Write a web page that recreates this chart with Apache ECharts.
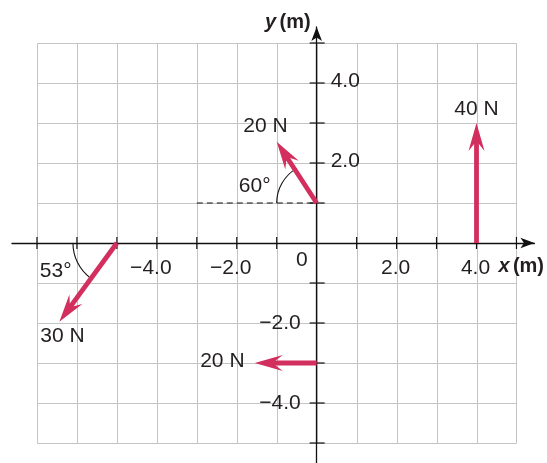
<!DOCTYPE html>
<html><head><meta charset="utf-8">
<script src="https://cdn.jsdelivr.net/npm/echarts@6/dist/echarts.min.js"></script>
<style>html,body{margin:0;padding:0;background:#fff}#c{width:547px;height:463px}</style>
</head><body><div id="c"></div>
<script>
// ---- grid / axis data ----
const gridXValues = [-7,-6,-5,-4,-3,-2,-1,0,1,2,3,4,5];
const gridYValues = [-5,-4,-3,-2,-1,0,1,2,3,4,5];
const gridXMin = -7, gridXMax = 5, gridYMin = -5, gridYMax = 5;
const xTickValues = [-7,-6,-5,-4,-3,-2,-1,1,2,3,4,5];
const yTickValues = [-5,-4,-3,-2,-1,1,2,3,4,5];
const xLabelValues = [-4, -2, 0, 2, 4];
const xLabelTexts = ['\u22124.0', '\u22122.0', '0', '2.0', '4.0'];
const yLabelValues = [4, 2, -2, -4];
const yLabelTexts = ['4.0', '2.0', '\u22122.0', '\u22124.0'];

// ---- force vectors ----
const forceNames = ['40 N', '20 N', '30 N', '20 N'];
const forceStartX = [4, 0, -5, 0];
const forceStartY = [0, 1, 0, -3];
const forceEndX = [4, -1.0, -6.44, -1.55];
const forceEndY = [3, 2.53, -1.97, -3];
const forceLabelX = [4.0, -1.28, -6.36, -2.36];
const forceLabelY = [3.34, 2.91, -2.33, -2.96];

// ---- angles ----
const angleTexts = ['60\u00b0', '53\u00b0'];
const angleCenterX = [0, -5];
const angleCenterY = [1, 0];
const angleFrom = [120, 180];
const angleTo = [180, 233];
const angleRadius = [1.0, 1.1];
const angleLabelX = [-1.55, -6.53];
const angleLabelY = [1.41, -0.71];

// ---- dashed reference line ----
const refLineX = [-3, 0];
const refLineY = [1, 1];

const FONT = '"Liberation Sans", Arial, Helvetica, sans-serif';
const INK = '#231f20';
const RED = '#d22e5e';
const GRIDC = '#c4c4c4';
const FS = 21;

const chart = echarts.init(document.getElementById('c'));

function txt(x, y, text, align, va) {
  return {type: 'text', x: x, y: y, style: {text: text, fill: INK, fontSize: FS, fontFamily: FONT, align: align || 'center', verticalAlign: va || 'middle'}};
}

const gridData = gridXValues.map(v => [v, 0, 0]).concat(gridYValues.map(v => [0, v, 1]));
const tickData = xTickValues.map(v => [v, 0, 0]).concat(yTickValues.map(v => [0, v, 1]));
const xLabData = xLabelValues.map((v, i) => [v, 0, i]);
const yLabData = yLabelValues.map((v, i) => [0, v, i]);
const forceData = forceNames.map((n, i) => [forceStartX[i], forceStartY[i], forceEndX[i], forceEndY[i], i]);
const forceLabData = forceNames.map((n, i) => [forceLabelX[i], forceLabelY[i], i]);
const angleData = angleTexts.map((t, i) => [angleCenterX[i], angleCenterY[i], angleRadius[i], angleFrom[i], angleTo[i], i]);
const angleLabData = angleTexts.map((t, i) => [angleLabelX[i], angleLabelY[i], i]);

const option = {
  animation: false,
  backgroundColor: '#fff',
  grid: {left: 12, right: 12, top: 27, bottom: 0},
  xAxis: {
    type: 'value', min: -7.625, max: 5.45, z: 3,
    axisLine: {show: true, onZero: true, symbol: ['none', 'arrow'], symbolSize: [8, 14], lineStyle: {color: '#111', width: 1.3}},
    axisTick: {show: false}, axisLabel: {show: false}, splitLine: {show: false},
    name: '{i|x} {b|(m)}', nameLocation: 'end', nameGap: -36,
    nameTextStyle: {align: 'left', verticalAlign: 'top', padding: [13, 0, 0, 0],
      rich: {i: {fontStyle: 'italic', fontWeight: 'bold', fontSize: FS - 1, fontFamily: FONT, color: INK},
             b: {fontWeight: 'bold', fontSize: FS - 1, fontFamily: FONT, color: INK}}}
  },
  yAxis: {
    type: 'value', min: -5.5, max: 5.4, z: 3,
    axisLine: {show: true, onZero: true, symbol: ['none', 'arrow'], symbolSize: [8, 14], lineStyle: {color: '#111', width: 1.3}},
    axisTick: {show: false}, axisLabel: {show: false}, splitLine: {show: false},
    name: '{i|y} {b|(m)}', nameLocation: 'end', nameGap: 5,
    nameTextStyle: {align: 'right', verticalAlign: 'middle', padding: [0, 6, 0, 0],
      rich: {i: {fontStyle: 'italic', fontWeight: 'bold', fontSize: FS - 1, fontFamily: FONT, color: INK},
             b: {fontWeight: 'bold', fontSize: FS - 1, fontFamily: FONT, color: INK}}}
  },
  series: [
    { // grid lines
      type: 'custom', z: 1, silent: true, data: gridData,
      renderItem: function (p, api) {
        const kind = api.value(2);
        let a, b;
        if (kind === 0) { a = api.coord([api.value(0), gridYMin]); b = api.coord([api.value(0), gridYMax]); }
        else { a = api.coord([gridXMin, api.value(1)]); b = api.coord([gridXMax, api.value(1)]); }
        const r = v => Math.round(v) + 0.5;
        return {type: 'line', shape: {x1: r(a[0]), y1: r(a[1]), x2: r(b[0]), y2: r(b[1])}, style: {stroke: GRIDC, lineWidth: 1}};
      }
    },
    { // axis ticks (crossing)
      type: 'custom', z: 4, silent: true, data: tickData,
      renderItem: function (p, api) {
        const c = api.coord([api.value(0), api.value(1)]);
        const kind = api.value(2);
        const shape = kind === 0 ? {x1: c[0], y1: c[1] - 6, x2: c[0], y2: c[1] + 6} : {x1: c[0] - 7, y1: c[1], x2: c[0] + 8, y2: c[1]};
        return {type: 'line', shape: shape, style: {stroke: '#111', lineWidth: 1.2}};
      }
    },
    { // x tick labels
      type: 'custom', z: 4, silent: true, data: xLabData,
      renderItem: function (p, api) {
        const v = api.value(0);
        const c = api.coord([v, 0]);
        const t = xLabelTexts[api.value(2)];
        if (v === 0) return txt(c[0] - 9, c[1] + 17, t, 'right');
        return txt(c[0] + (v < 0 ? -6 : -1), c[1] + 25, t, 'center');
      }
    },
    { // y tick labels
      type: 'custom', z: 4, silent: true, data: yLabData,
      renderItem: function (p, api) {
        const v = api.value(1);
        const c = api.coord([0, v]);
        const t = yLabelTexts[api.value(2)];
        if (v > 0) return txt(c[0] + 14, c[1] - 2, t, 'left');
        return txt(c[0] - 16, c[1], t, 'right');
      }
    },
    { // dashed reference line
      type: 'line', z: 4, silent: true, symbol: 'none',
      data: refLineX.map((x, i) => [x, refLineY[i]]),
      lineStyle: {color: '#111', width: 1.1, type: [6, 4]}
    },
    { // angle arcs
      type: 'custom', z: 4, silent: true, data: angleData,
      renderItem: function (p, api) {
        const c = api.coord([api.value(0), api.value(1)]);
        const r = api.size([api.value(2), 0])[0];
        const a1 = api.value(3) * Math.PI / 180, a2 = api.value(4) * Math.PI / 180;
        return {type: 'arc', shape: {cx: c[0], cy: c[1], r: r, startAngle: -a2, endAngle: -a1, clockwise: true},
          style: {stroke: '#111', lineWidth: 1.1, fill: null}};
      }
    },
    { // angle labels
      type: 'custom', z: 4, silent: true, data: angleLabData,
      renderItem: function (p, api) {
        const c = api.coord([api.value(0), api.value(1)]);
        return txt(c[0], c[1], angleTexts[api.value(2)], 'center');
      }
    },
    { // force vectors
      type: 'custom', z: 5, silent: true, data: forceData,
      renderItem: function (p, api) {
        const p0 = api.coord([api.value(0), api.value(1)]);
        const p1 = api.coord([api.value(2), api.value(3)]);
        const dx = p1[0] - p0[0], dy = p1[1] - p0[1];
        const L = Math.sqrt(dx * dx + dy * dy);
        const ux = dx / L, uy = dy / L, nx = -uy, ny = ux;
        const H = 28, W = 8, N = 21, S = 2.4;
        const pt = (back, side) => [p1[0] - ux * back + nx * side, p1[1] - uy * back + ny * side];
        return {type: 'group', children: [
          {type: 'line', shape: {x1: p0[0], y1: p0[1], x2: pt(N - 1, 0)[0], y2: pt(N - 1, 0)[1]}, style: {stroke: RED, lineWidth: 4.8}},
          {type: 'polygon', shape: {points: [pt(0, 0), pt(H, W), pt(N, S), pt(N, -S), pt(H, -W)]}, style: {fill: RED}}
        ]};
      }
    },
    { // force labels
      type: 'custom', z: 6, silent: true, data: forceLabData,
      renderItem: function (p, api) {
        const c = api.coord([api.value(0), api.value(1)]);
        return txt(c[0], c[1], forceNames[api.value(2)], 'center');
      }
    }
  ]
};
chart.setOption(option);
</script></body></html>
